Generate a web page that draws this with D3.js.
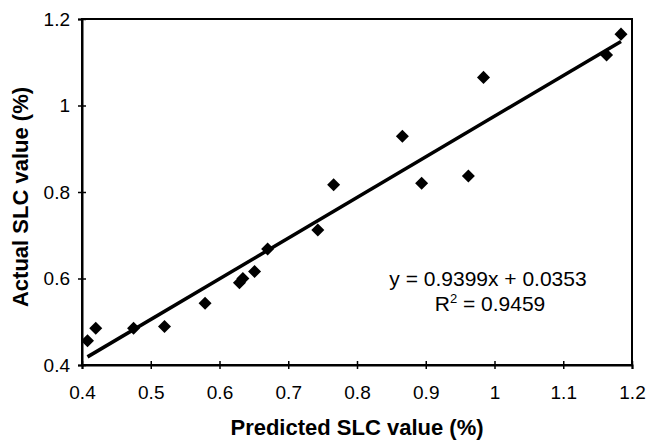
<!DOCTYPE html>
<html>
<head>
<meta charset="utf-8">
<script src="https://cdn.jsdelivr.net/npm/d3@7"></script>
<style>
  body { margin: 0; background: #fff; }
  text { font-family: "Liberation Sans", Arial, sans-serif; fill: #000; }
</style>
</head>
<body>
<svg id="chart" width="647" height="440"></svg>
<script>
// predicted vs actual SLC (%)
const predicted = [0.408, 0.420, 0.475, 0.520, 0.579, 0.629, 0.634, 0.651, 0.670, 0.743, 0.766, 0.866, 0.894, 0.962, 0.984, 1.163, 1.184];
const actual    = [0.456, 0.485, 0.485, 0.489, 0.543, 0.590, 0.600, 0.616, 0.668, 0.712, 0.817, 0.929, 0.820, 0.837, 1.065, 1.117, 1.165];
const xTicks = [0.4, 0.5, 0.6, 0.7, 0.8, 0.9, 1, 1.1, 1.2];
const yTicks = [0.4, 0.6, 0.8, 1, 1.2];
const slope = 0.9399, intercept = 0.0353, r2 = 0.9459;

const margin = {top: 19, right: 15, bottom: 75, left: 82};
const width = 647, height = 440;
const svg = d3.select("#chart");

const x = d3.scaleLinear().domain([0.4, 1.2]).range([margin.left, width - margin.right]);
const y = d3.scaleLinear().domain([0.4, 1.2]).range([height - margin.bottom, margin.top]);

// frame
svg.append("rect")
  .attr("x", x(0.4)).attr("y", y(1.2))
  .attr("width", x(1.2) - x(0.4)).attr("height", y(0.4) - y(1.2))
  .attr("fill", "none").attr("stroke", "#000").attr("stroke-width", 2);

const xAxis = svg.append("g")
  .attr("transform", "translate(0," + y(0.4) + ")")
  .call(d3.axisBottom(x).tickValues(xTicks).tickSize(4).tickFormat(d3.format("")));
xAxis.selectAll(".tick line").attr("y1", -4).attr("stroke-width", 1.5);
xAxis.selectAll(".tick text").attr("y", 21).style("font-size", "19px");

const yAxis = svg.append("g")
  .attr("transform", "translate(" + x(0.4) + ",0)")
  .call(d3.axisLeft(y).tickValues(yTicks).tickSize(4).tickFormat(d3.format("")));
yAxis.selectAll(".tick line").attr("x1", 4).attr("stroke-width", 1.5);
yAxis.selectAll(".tick text").attr("x", -12).style("font-size", "19px");
svg.selectAll(".domain").attr("stroke-width", 2);

// trend line
const x0 = d3.min(predicted), x1 = d3.max(predicted);
svg.append("line")
  .attr("x1", x(x0)).attr("y1", y(slope * x0 + intercept))
  .attr("x2", x(x1)).attr("y2", y(slope * x1 + intercept))
  .attr("stroke", "#000").attr("stroke-width", 3.5);

// points
const diamond = d3.symbol().type(d3.symbolSquare).size(85);
svg.append("g").selectAll("path")
  .data(predicted)
  .enter().append("path")
  .attr("d", diamond)
  .attr("transform", (d, i) => "translate(" + x(d) + "," + y(actual[i]) + ") rotate(45)")
  .attr("fill", "#000");

// equation
svg.append("text")
  .attr("x", 488).attr("y", 286)
  .attr("text-anchor", "middle").style("font-size", "21px")
  .text("y = " + slope + "x + " + intercept);
const rt = svg.append("text")
  .attr("x", 490).attr("y", 311)
  .attr("text-anchor", "middle").style("font-size", "21px");
rt.append("tspan").text("R");
rt.append("tspan").attr("dy", -8).style("font-size", "13px").text("2");
rt.append("tspan").attr("dy", 8).text(" = " + r2);

// axis titles
svg.append("text")
  .attr("x", (x(0.4) + x(1.2)) / 2).attr("y", 435)
  .attr("text-anchor", "middle").style("font-size", "22px").style("font-weight", "bold")
  .text("Predicted SLC value (%)");
svg.append("text")
  .attr("transform", "translate(28,197) rotate(-90)")
  .attr("text-anchor", "middle").style("font-size", "22px").style("font-weight", "bold")
  .text("Actual SLC value (%)");
</script>
</body>
</html>
